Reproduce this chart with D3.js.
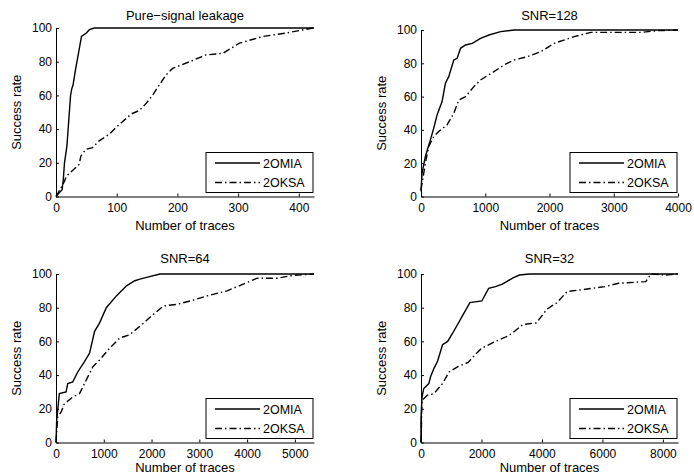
<!DOCTYPE html>
<meta charset="utf-8">
<html>
<head>
<script src="https://d3js.org/d3.v7.min.js"></script>
<style>
  body { margin: 0; background: #fff; }
  text { font-family: "Liberation Sans", Arial, sans-serif; fill: #000; }
</style>
</head>
<body>
<svg id="my_dataviz" width="694" height="474"></svg>
</body>
</html>
<script>

// Panel titles and x-axis ranges
var titles = ["Pure\u2212signal leakage", "SNR=128", "SNR=64", "SNR=32"];
var xMax = [425, 4000, 5400, 8500];
var xTicks = [
  [0, 100, 200, 300, 400],
  [0, 1000, 2000, 3000, 4000],
  [0, 1000, 2000, 3000, 4000, 5000],
  [0, 2000, 4000, 6000, 8000]
];
var yTicks = [0, 20, 40, 60, 80, 100];
var seriesNames = ["2OMIA", "2OKSA"];

// [number of traces, success rate]
var omiaPure = [[0,0],[5,2],[10,4],[12,10],[14,20],[18,30],[21,45],[24,60],[26,64],[28,66],[32,75],[37,85],[42,95],[50,97],[55,99],[63,100],[425,100]];
var oksaPure = [[0,0],[8,5],[14,9],[17,12],[38,19],[41,24],[49,28],[60,29],[71,33],[88,37],[99,41],[124,49],[137,51],[148,55],[159,60],[168,65],[181,72],[192,76],[220,80],[247,84],[275,85],[302,91],[341,95],[379,97],[423,100],[425,100]];

var omia128 = [[0,3],[16,14],[68,24],[146,34],[198,41],[250,49],[328,57],[380,68],[432,72],[510,82],[563,83],[615,89],[693,91],[797,92],[927,95],[1057,97],[1240,99],[1448,100],[4000,100]];
var oksa128 = [[0,4],[68,20],[120,30],[198,36],[276,39],[406,43],[510,50],[589,58],[693,60],[823,66],[927,70],[1135,75],[1292,79],[1448,82],[1656,84],[1865,87],[2073,92],[2385,96],[2646,98.6],[3010,98.6],[3427,98.6],[3688,99.6],[4000,100]];

var omia64 = [[0,0],[14,13],[70,29],[211,30],[246,35],[351,36],[457,42],[597,48],[702,53],[808,66],[913,71],[1053,80],[1264,87],[1475,93],[1650,96],[1756,97],[1896,98],[2177,100],[5400,100]];
var oksa64 = [[0,0],[35,15],[105,18],[176,23],[351,27],[492,29],[632,37],[772,45],[913,49],[1124,56],[1334,62],[1545,64],[1756,69],[2037,76],[2247,81],[2528,82],[2809,84],[3160,87],[3581,90],[4003,95],[4213,97.5],[4635,97.5],[4916,99],[5400,100]];

var omia32 = [[0,0],[0,15],[34,27],[90,32],[260,35],[316,39],[429,44],[542,48],[712,58],[881,60],[1051,65],[1333,74],[1616,83],[2011,84],[2237,91.5],[2463,92.5],[2689,94],[3028,97.5],[3254,99.4],[3593,100],[8500,100]];
var oksa32 = [[0,0],[34,25],[203,28],[429,29],[712,35],[938,42],[1220,45],[1559,47.5],[1785,52],[2011,56],[2463,60],[2859,63],[3028,65],[3367,70],[3819,71],[4158,79],[4497,83],[4836,89.6],[5288,90.6],[6079,92.5],[6531,94.5],[7435,95.5],[7605,100],[8113,99.4],[8500,100]];

var panelData = [[omiaPure, oksaPure], [omia128, oksa128], [omia64, oksa64], [omia32, oksa32]];

// Axes boxes (left, top, right, bottom)
var boxes = [
  [56, 28, 314, 196.5],
  [421, 30, 678, 196.5],
  [56, 274, 314, 442.5],
  [421, 274, 678, 442.5]
];
// baselines of title and x label per panel
var titleY = [19.5, 19.5, 263, 263];
var xLabelY = [229.5, 229.5, 471.5, 471.5];

var svg = d3.select("svg");
var dashes = [null, "7,3,1.5,3"];
var font = "Liberation Sans, Arial, sans-serif";

boxes.forEach(function(b, i) {
  var x = d3.scaleLinear().domain([0, xMax[i]]).range([b[0], b[2]]);
  var y = d3.scaleLinear().domain([0, 100]).range([b[3], b[1]]);
  var g = svg.append("g");

  // x axis, ticks pointing inward
  g.append("g")
    .attr("transform", "translate(0," + b[3] + ")")
    .call(d3.axisBottom(x).tickValues(xTicks[i]).tickFormat(d3.format("d"))
      .tickSizeInner(-3).tickSizeOuter(0).tickPadding(7))
    .call(function(a) {
      a.select(".domain").attr("stroke", "#000");
      a.selectAll("text").attr("font-size", 12).attr("font-family", font);
    });

  // y axis
  g.append("g")
    .attr("transform", "translate(" + b[0] + ",0)")
    .call(d3.axisLeft(y).tickValues(yTicks).tickSizeInner(-3).tickSizeOuter(0).tickPadding(4))
    .call(function(a) {
      a.select(".domain").attr("stroke", "#000");
      a.selectAll("text").attr("font-size", 12).attr("font-family", font);
    });

  // curves
  var line = d3.line().x(function(d) { return x(d[0]); }).y(function(d) { return y(d[1]); });
  panelData[i].forEach(function(s, k) {
    g.append("path")
      .datum(s)
      .attr("d", line)
      .attr("fill", "none")
      .attr("stroke", "#000")
      .attr("stroke-width", 1.4)
      .attr("stroke-dasharray", dashes[k]);
  });

  // title and axis labels
  g.append("text")
    .attr("x", (b[0] + b[2]) / 2)
    .attr("y", titleY[i])
    .attr("text-anchor", "middle")
    .attr("font-size", 13)
    .text(titles[i]);
  g.append("text")
    .attr("x", (b[0] + b[2]) / 2)
    .attr("y", xLabelY[i])
    .attr("text-anchor", "middle")
    .attr("font-size", 13)
    .text("Number of traces");
  g.append("text")
    .attr("transform", "translate(" + (b[0] - 35) + "," + ((b[1] + b[3]) / 2) + ") rotate(-90)")
    .attr("text-anchor", "middle")
    .attr("font-size", 13)
    .text("Success rate");

  // legend
  var lw = 107, lh = 40;
  var lx = b[2] - lw - 1, ly = b[3] - lh - 4;
  var leg = g.append("g").attr("transform", "translate(" + lx + "," + ly + ")");
  leg.append("rect")
    .attr("width", lw).attr("height", lh)
    .attr("fill", "#fff").attr("stroke", "#000").attr("stroke-width", 1);
  seriesNames.forEach(function(n, k) {
    var yy = 10.5 + k * 19.5;
    leg.append("line")
      .attr("x1", 9).attr("x2", 54).attr("y1", yy).attr("y2", yy)
      .attr("stroke", "#000").attr("stroke-width", 1.4)
      .attr("stroke-dasharray", dashes[k]);
    leg.append("text")
      .attr("x", 57).attr("y", yy + 4.5)
      .attr("font-size", 12.5)
      .text(n);
  });
});

</script>
